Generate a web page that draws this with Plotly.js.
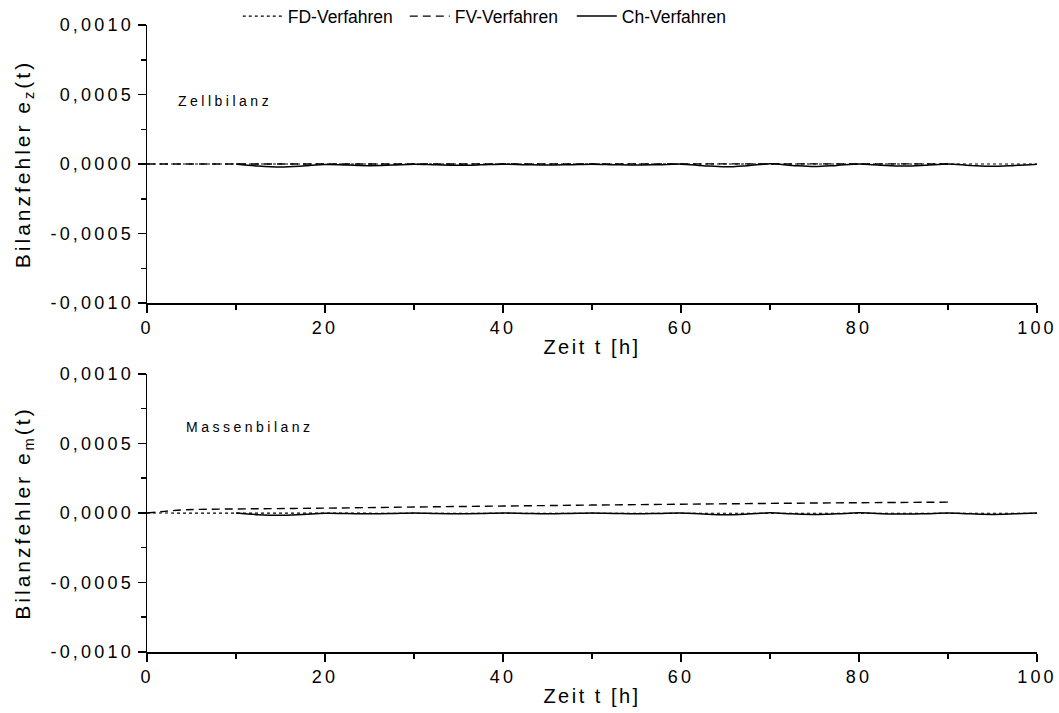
<!DOCTYPE html>
<html>
<head>
<meta charset="utf-8">
<script src="https://cdn.plot.ly/plotly-3.0.1.min.js"></script>
<style>
  html, body { margin: 0; padding: 0; background: #fff; }
  #chart { width: 1059px; height: 713px; }
  .xtick text, .ytick text, .x2tick text, .y2tick text { letter-spacing: 3.2px; }
  .g-xtitle text, .g-x2title text { letter-spacing: 2.5px; }
  .g-ytitle text, .g-y2title text { letter-spacing: 3px; }
  .annotation-text { letter-spacing: 3.5px; }
</style>
</head>
<body>
<div id="chart"></div>
<script>
// ---- data ----
const seriesNames = ["FD-Verfahren", "FV-Verfahren", "Ch-Verfahren"];

// Top panel: Zellbilanz e_z(t)
const zFD_t = [0, 10, 20, 30, 40, 50, 60, 70, 80, 90, 100];
const zFD_v = [0, 0, 0, 0, 0, 0, 0, 0, 0, 0, 0];
const zFV_t = [0, 10, 20, 30, 40, 50, 60, 70, 80, 90];
const zFV_v = [0, 0.1e-5, 0.1e-5, 0.1e-5, 0.1e-5, 0.1e-5, 0.1e-5, 0.1e-5, 0.1e-5, 0.1e-5];
const zCh_t = [10, 12.5, 15, 17.5, 20, 22.5, 25, 27.5, 30, 32.5, 35, 37.5, 40, 42.5, 45, 47.5, 50,
               52.5, 55, 57.5, 60, 62.5, 65, 67.5, 70, 72.5, 75, 77.5, 80, 82.5, 85, 87.5, 90,
               92.5, 95, 97.5, 100];
const zCh_v = [0, -1.5e-5, -2.2e-5, -1.5e-5, -0.3e-5, -0.8e-5, -1.2e-5, -0.8e-5, -0.2e-5, -0.6e-5,
               -0.9e-5, -0.6e-5, -0.1e-5, -0.5e-5, -0.8e-5, -0.5e-5, -0.1e-5, -0.5e-5, -0.8e-5,
               -0.5e-5, -0.1e-5, -1.2e-5, -2.0e-5, -1.2e-5, 0.1e-5, -1.0e-5, -1.8e-5, -1.0e-5, 0,
               -0.9e-5, -1.5e-5, -0.9e-5, 0, -1.0e-5, -1.7e-5, -1.0e-5, -0.1e-5];

// Bottom panel: Massenbilanz e_m(t)
const mFD_t = [0, 10, 20, 30, 40, 50, 60, 70, 80, 90, 100];
const mFD_v = [0, -0.2e-5, -0.2e-5, -0.2e-5, -0.2e-5, -0.2e-5, -0.2e-5, -0.2e-5, -0.2e-5, -0.2e-5, -0.2e-5];
const mFV_t = [0, 2, 4, 6, 10, 20, 30, 40, 50, 60, 70, 80, 90];
const mFV_v = [0, 1.2e-5, 2.2e-5, 2.6e-5, 2.9e-5, 3.5e-5, 4.3e-5, 5.0e-5, 5.7e-5, 6.3e-5, 6.9e-5, 7.4e-5, 7.8e-5];
const mCh_t = [10, 12.5, 15, 17.5, 20, 22.5, 25, 27.5, 30, 32.5, 35, 37.5, 40, 42.5, 45, 47.5, 50,
               52.5, 55, 57.5, 60, 62.5, 65, 67.5, 70, 72.5, 75, 77.5, 80, 82.5, 85, 87.5, 90,
               92.5, 95, 97.5, 100];
const mCh_v = [0, -1.2e-5, -1.6e-5, -1.0e-5, -0.2e-5, -0.4e-5, -0.6e-5, -0.4e-5, 0, -0.4e-5,
               -0.6e-5, -0.4e-5, 0, -0.3e-5, -0.5e-5, -0.3e-5, 0, -0.3e-5, -0.5e-5, -0.3e-5, 0,
               -0.8e-5, -1.3e-5, -0.8e-5, 0.1e-5, -0.6e-5, -1.0e-5, -0.6e-5, 0.1e-5, -0.5e-5,
               -0.8e-5, -0.5e-5, 0, -0.6e-5, -1.0e-5, -0.6e-5, 0];

// tick labels
const yTickVals = [-0.001, -0.0005, 0, 0.0005, 0.001];
const yTickText = ["-0,0010", "-0,0005", "0,0000", "0,0005", "0,0010"];
const xTickVals = [0, 20, 40, 60, 80, 100];
const xTickText = ["0", "20", "40", "60", "80", "100"];

const panelLabels = ["Zellbilanz", "Massenbilanz"];
const xTitle = "Zeit t [h]";
const yTitles = ["Bilanzfehler e<sub>z</sub>(t)", "Bilanzfehler e<sub>m</sub>(t)"];

// ---- styling ----
const FONT = "Liberation Sans, Arial, sans-serif";
const dotLine = { color: "#000", width: 1.2, dash: "dot" };
const dashLine = { color: "#000", width: 1.4, dash: "8px,5px" };
const solidLine = { color: "#000", width: 1.5, dash: "solid" };

const traces = [
  { x: zFD_t, y: zFD_v, name: seriesNames[0], mode: "lines", line: dotLine, xaxis: "x", yaxis: "y" },
  { x: zFV_t, y: zFV_v, name: seriesNames[1], mode: "lines", line: dashLine, xaxis: "x", yaxis: "y" },
  { x: zCh_t, y: zCh_v, name: seriesNames[2], mode: "lines", line: Object.assign({ shape: "spline" }, solidLine), xaxis: "x", yaxis: "y" },
  { x: mFD_t, y: mFD_v, name: seriesNames[0], mode: "lines", line: dotLine, xaxis: "x2", yaxis: "y2", showlegend: false },
  { x: mFV_t, y: mFV_v, name: seriesNames[1], mode: "lines", line: Object.assign({ shape: "spline" }, dashLine), xaxis: "x2", yaxis: "y2", showlegend: false },
  { x: mCh_t, y: mCh_v, name: seriesNames[2], mode: "lines", line: Object.assign({ shape: "spline" }, solidLine), xaxis: "x2", yaxis: "y2", showlegend: false }
];

function xAxis(anchor) {
  return {
    anchor: anchor, domain: [0, 1], range: [0, 100],
    showline: true, linecolor: "#000", linewidth: 1.5,
    zeroline: false, showgrid: false,
    ticks: "outside", ticklen: 8, tickwidth: 1.5, tickcolor: "#000",
    tickvals: xTickVals, ticktext: xTickText,
    tickfont: { family: FONT, size: 18, color: "#000" },
    minor: { ticks: "outside", ticklen: 5, tickwidth: 1.5, tickcolor: "#000", dtick: 10, tick0: 0, showgrid: false },
    title: { text: xTitle, font: { family: FONT, size: 20, color: "#000" }, standoff: 3 },
    automargin: false
  };
}
function yAxis(anchor, domain, title) {
  return {
    anchor: anchor, domain: domain, range: [-0.001, 0.001],
    showline: true, linecolor: "#000", linewidth: 1.5,
    zeroline: false, showgrid: false,
    ticks: "outside", ticklen: 8, tickwidth: 1.5, tickcolor: "#000",
    tickvals: yTickVals, ticktext: yTickText,
    tickfont: { family: FONT, size: 18, color: "#000" },
    minor: { ticks: "outside", ticklen: 5, tickwidth: 1.5, tickcolor: "#000", dtick: 0.00025, tick0: 0, showgrid: false },
    title: { text: title, font: { family: FONT, size: 21, color: "#000" }, standoff: 14 },
    automargin: false
  };
}

const layout = {
  width: 1059, height: 713,
  margin: { l: 147, r: 22, t: 25, b: 61, autoexpand: false },
  paper_bgcolor: "#fff", plot_bgcolor: "#fff",
  font: { family: FONT, color: "#000" },
  showlegend: true,
  legend: {
    orientation: "h", x: 0.102, xanchor: "left", y: 1.014, yanchor: "middle",
    font: { family: FONT, size: 17.5, color: "#000" },
    bgcolor: "rgba(0,0,0,0)", itemwidth: 40, traceorder: "normal",
    entrywidth: 112, entrywidthmode: "pixels"
  },
  xaxis: xAxis("y"),
  yaxis: yAxis("x", [0.5566, 1], yTitles[0]),
  xaxis2: xAxis("y2"),
  yaxis2: yAxis("x2", [0, 0.4434], yTitles[1]),
  annotations: [
    { xref: "x", yref: "y", x: 3.3, y: 0.00045, xanchor: "left", yanchor: "middle", showarrow: false,
      text: panelLabels[0], font: { family: FONT, size: 14, color: "#000" } },
    { xref: "x2", yref: "y2", x: 4.2, y: 0.00062, xanchor: "left", yanchor: "middle", showarrow: false,
      text: panelLabels[1], font: { family: FONT, size: 14, color: "#000" } }
  ]
};

Plotly.newPlot("chart", traces, layout, { staticPlot: true, displayModeBar: false });
</script>
</body>
</html>
